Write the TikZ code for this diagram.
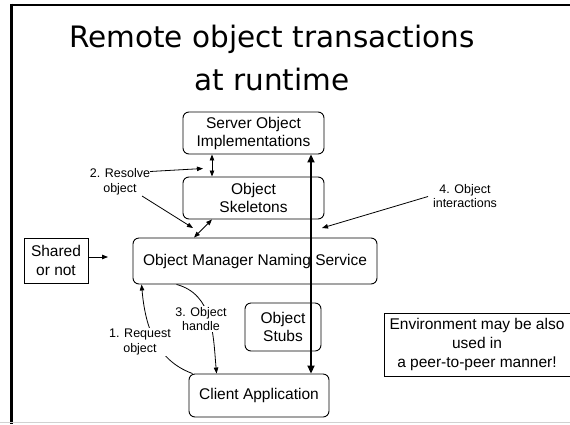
\documentclass[tikz,border=0pt]{standalone}
\usepackage{fontspec}
\setmainfont{Liberation Sans}
\newfontfamily\titlefont{DejaVu Sans}
\usetikzlibrary{arrows.meta}

\tikzset{
  rbox/.style={draw=black, line width=0.9pt, rounded corners=6pt, align=center,
    inner sep=0pt, font=\fontsize{15.5}{18}\selectfont},
  sbox/.style={draw=black, line width=0.9pt, align=center,
    inner sep=0pt, font=\fontsize{15.5}{19}\selectfont},
  lbl/.style={align=center, inner sep=1.5pt, font=\fontsize{12.5}{14.5}\selectfont},
  thin arrow/.style={line width=0.8pt, -{Triangle[length=6pt,width=4.5pt]}},
  thin both/.style={line width=0.8pt, {Triangle[length=6pt,width=4.5pt]}-{Triangle[length=6pt,width=4.5pt]}},
  big both/.style={line width=1.8pt, {Triangle[length=8pt,width=7pt]}-{Triangle[length=8pt,width=7pt]}},
  titletext/.style={font=\titlefont\fontsize{29.5}{43}\selectfont, inner sep=0pt, anchor=base}
}

\begin{document}
\begin{tikzpicture}[x=1pt, y=-1pt]
  \useasboundingbox (0,0) rectangle (570,424);

  % slide frame
  \draw[line width=3pt] (11.5,3.5) -- (11.5,424);
  \draw[line width=2.5pt] (10,5.2) -- (570,5.2);
  \draw[line width=1.5pt, black!18] (0,422.5) -- (570,422.5);

  % title
  \node[titletext] (title1) at (272,47) {Remote object transactions};
  \node[titletext] (title2) at (272,90) {at runtime};

  % components
  \node[rbox, minimum width=141pt, minimum height=42pt] (server) at (253.5,133)
    {Server Object\\Implementations};
  \node[rbox, minimum width=141pt, minimum height=42pt] (skel) at (253.5,198)
    {Object\\Skeletons};
  \node[rbox, minimum width=244pt, minimum height=46pt] (naming) at (255,261)
    {Object Manager Naming Service};
  \node[sbox, minimum width=64pt, minimum height=45pt] (shared) at (56,260.5)
    {Shared\\or not};
  \node[rbox, minimum width=76pt, minimum height=48pt] (stubs) at (283,327)
    {Object\\Stubs};
  \node[rbox, minimum width=140pt, minimum height=43pt] (client) at (259,395.5)
    {Client Application};
  \node[sbox, minimum width=186pt, minimum height=63pt] (env) at (477,344.5)
    {Environment may be also\\used in\\a peer-to-peer manner!};

  % direct links
  \draw[big both] (311,0 |- server.south) -- (311,0 |- client.north);
  \draw[thin both] (212,0 |- server.south) -- (212,0 |- skel.north);
  \draw[thin both] (212,0 |- skel.south) -- (194,0 |- naming.north);

  \coordinate (sharedtip) at (108,257);
  \draw[thin arrow] (shared.east |- sharedtip) -- (sharedtip);

  % resolve step
  \coordinate (resA) at (150,171.5);
  \coordinate (resAtip) at (203,168.5);
  \coordinate (resB) at (142,196);
  \coordinate (resBtip) at (193,228);
  \draw[thin arrow] (resA) -- (resAtip);
  \draw[thin arrow] (resB) -- (resBtip);
  \node[lbl] (resolve) at (120,182) {2. Resolve\\object};

  % interaction step
  \coordinate (intA) at (428,196.5);
  \coordinate (intAtip) at (322,228);
  \draw[thin arrow] (intA) -- (intAtip);
  \node[lbl] (interact) at (465,196) {4. Object\\interactions};

  % request and handle curves
  \draw[thin arrow] ([xshift=4pt]client.north west) to[out=160, in=-85]
    ([xshift=9pt]naming.south west);
  \node[lbl, fill=white] (request) at (140,342) {1. Request\\object};

  \draw[thin arrow] ([xshift=44pt]naming.south west) to[out=-15, in=95]
    ([xshift=28pt]client.north west);
  \node[lbl, fill=white] (handle) at (201,319) {3. Object\\handle};
\end{tikzpicture}
\end{document}
